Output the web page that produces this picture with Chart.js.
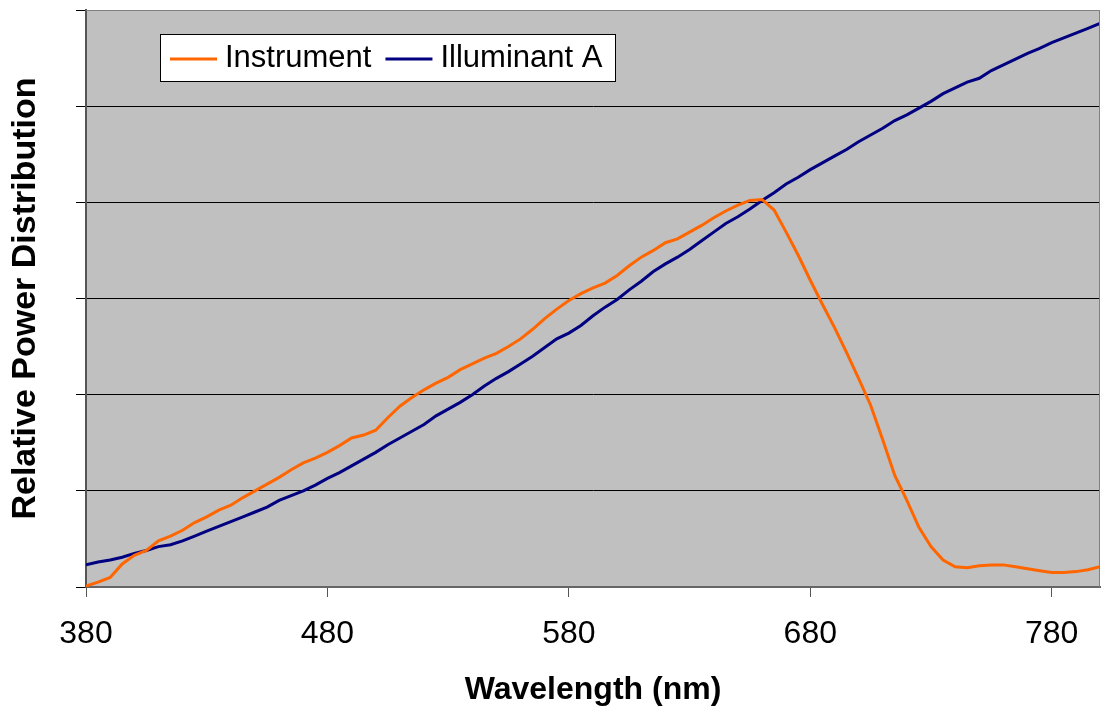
<!DOCTYPE html>
<html>
<head>
<meta charset="utf-8">
<script src="https://cdn.jsdelivr.net/npm/chart.js@4"></script>
<style>
  html, body { margin: 0; padding: 0; background: #fff; }
  #wrap { width: 1102px; height: 719px; }
</style>
</head>
<body>
<div id="wrap"><canvas id="spdChart" width="1102" height="719"></canvas></div>
<script>
// wavelengths in nm, 5 nm steps
const wavelengths = [];
for (let w = 380; w <= 800; w += 5) wavelengths.push(w);

// relative power (grid units 0..6)
const instrument = [
  0.01, 0.05, 0.10, 0.24, 0.33, 0.38, 0.48, 0.53, 0.59, 0.67,
  0.73, 0.80, 0.85, 0.93, 1.00, 1.07, 1.14, 1.22, 1.29, 1.34,
  1.40, 1.47, 1.55, 1.58, 1.63, 1.76, 1.88, 1.97, 2.05, 2.12,
  2.18, 2.26, 2.32, 2.38, 2.43, 2.50, 2.58, 2.68, 2.79, 2.89,
  2.98, 3.05, 3.11, 3.16, 3.24, 3.34, 3.43, 3.50, 3.58, 3.62,
  3.69, 3.76, 3.84, 3.91, 3.97, 4.02, 4.03, 3.92, 3.69, 3.45,
  3.19, 2.94, 2.70, 2.44, 2.17, 1.89, 1.53, 1.16, 0.90, 0.62,
  0.42, 0.28, 0.21, 0.20, 0.22, 0.23, 0.23, 0.21, 0.19, 0.17,
  0.15, 0.15, 0.16, 0.18, 0.21
];
const illuminantA = [
  0.23, 0.26, 0.28, 0.31, 0.35, 0.38, 0.42, 0.44, 0.48, 0.53,
  0.58, 0.63, 0.68, 0.73, 0.78, 0.83, 0.90, 0.95, 1.00, 1.06,
  1.13, 1.19, 1.26, 1.33, 1.40, 1.48, 1.55, 1.62, 1.69, 1.78,
  1.85, 1.92, 2.00, 2.09, 2.17, 2.24, 2.32, 2.40, 2.49, 2.58,
  2.64, 2.72, 2.82, 2.91, 2.99, 3.09, 3.18, 3.28, 3.36, 3.43,
  3.51, 3.60, 3.69, 3.78, 3.85, 3.93, 4.02, 4.10, 4.19, 4.26,
  4.34, 4.41, 4.48, 4.55, 4.63, 4.70, 4.77, 4.85, 4.91, 4.98,
  5.05, 5.13, 5.19, 5.25, 5.29, 5.37, 5.43, 5.49, 5.55, 5.60,
  5.66, 5.71, 5.76, 5.81, 5.86
];
const xTicks = [380, 480, 580, 680, 780];
const seriesNames = ['Instrument', 'Illuminant A'];

const FONT = "'Liberation Sans', Arial, sans-serif";

const plotBg = {
    id: 'plotBg',
    beforeDraw(chart) {
        const a = chart.chartArea, ctx = chart.ctx;
        ctx.save();
        ctx.fillStyle = '#c0c0c0';
        ctx.fillRect(a.left, a.top, a.right - a.left, a.bottom - a.top);
        ctx.restore();
    },
    afterDraw(chart) {
        const a = chart.chartArea, ctx = chart.ctx;
        ctx.save();
        ctx.strokeStyle = '#808080';
        ctx.lineWidth = 1;
        ctx.beginPath();
        ctx.moveTo(a.left, a.top + 0.5); ctx.lineTo(a.right - 0.5, a.top + 0.5);
        ctx.lineTo(a.right - 0.5, a.bottom);
        ctx.stroke();
        ctx.restore();
    }
};

// legend drawn inside the plot area
const boxLegend = {
    id: 'boxLegend',
    afterDraw(chart) {
        const a = chart.chartArea, ctx = chart.ctx;
        const x0 = a.left + 74, y0 = a.top + 24, w = 456, h = 48;
        ctx.save();
        ctx.fillStyle = '#fff';
        ctx.fillRect(x0, y0, w, h);
        ctx.strokeStyle = '#000';
        ctx.lineWidth = 1;
        ctx.strokeRect(x0 + 0.5, y0 + 0.5, w - 1, h - 1);
        ctx.font = '31px ' + FONT;
        ctx.textBaseline = 'middle';
        let x = x0 + 10;
        const cy = y0 + h / 2;
        chart.data.datasets.forEach(ds => {
            ctx.strokeStyle = ds.borderColor;
            ctx.lineWidth = 3;
            ctx.beginPath();
            ctx.moveTo(x, cy + 1); ctx.lineTo(x + 47, cy + 1);
            ctx.stroke();
            ctx.fillStyle = '#000';
            ctx.fillText(ds.label, x + 55, cy);
            x += 55 + ctx.measureText(ds.label).width + 14;
        });
        ctx.restore();
    }
};

const ctx = document.getElementById('spdChart').getContext('2d');
const spdChart = new Chart(ctx, {
    type: 'line',
    data: {
        labels: wavelengths,
        datasets: [
            { label: seriesNames[0], data: wavelengths.map((w, i) => ({ x: w, y: instrument[i] })),
              borderColor: '#ff6600', borderWidth: 3, pointRadius: 0, tension: 0, fill: false },
            { label: seriesNames[1], data: wavelengths.map((w, i) => ({ x: w, y: illuminantA[i] })),
              borderColor: '#000080', borderWidth: 3, pointRadius: 0, tension: 0, fill: false }
        ]
    },
    options: {
        responsive: false,
        animation: false,
        layout: { padding: { left: 0, right: 2, top: 10, bottom: 0 } },
        plugins: { legend: { display: false }, tooltip: { enabled: false } },
        scales: {
            x: {
                type: 'linear', min: 380, max: 800,
                afterBuildTicks: s => { s.ticks = xTicks.map(v => ({ value: v })); },
                afterFit: s => { s.height = 132; },
                grid: { drawOnChartArea: false, drawTicks: true, tickLength: 10, tickColor: '#555' },
                border: { color: '#666', width: 2 },
                ticks: { color: '#000', font: { family: FONT, size: 32 }, padding: 18, maxRotation: 0 },
                title: { display: true, text: 'Wavelength (nm)', color: '#000',
                         font: { family: FONT, size: 32, weight: 'bold' }, padding: { top: 10, bottom: 10 } }
            },
            y: {
                min: 0, max: 6,
                afterFit: s => { s.width = 86; },
                ticks: { stepSize: 1, callback: () => '', padding: 0 },
                grid: {
                    color: c => (c.tick && c.tick.value === 6) ? '#808080' : '#000',
                    lineWidth: 1, tickLength: 10, tickColor: '#000'
                },
                border: { color: '#555', width: 2 },
                title: { display: true, text: 'Relative Power Distribution', color: '#000',
                         font: { family: FONT, size: 34, weight: 'bold' }, padding: { top: 5, bottom: 0 } }
            }
        }
    },
    plugins: [plotBg, boxLegend]
});
</script>
</body>
</html>
